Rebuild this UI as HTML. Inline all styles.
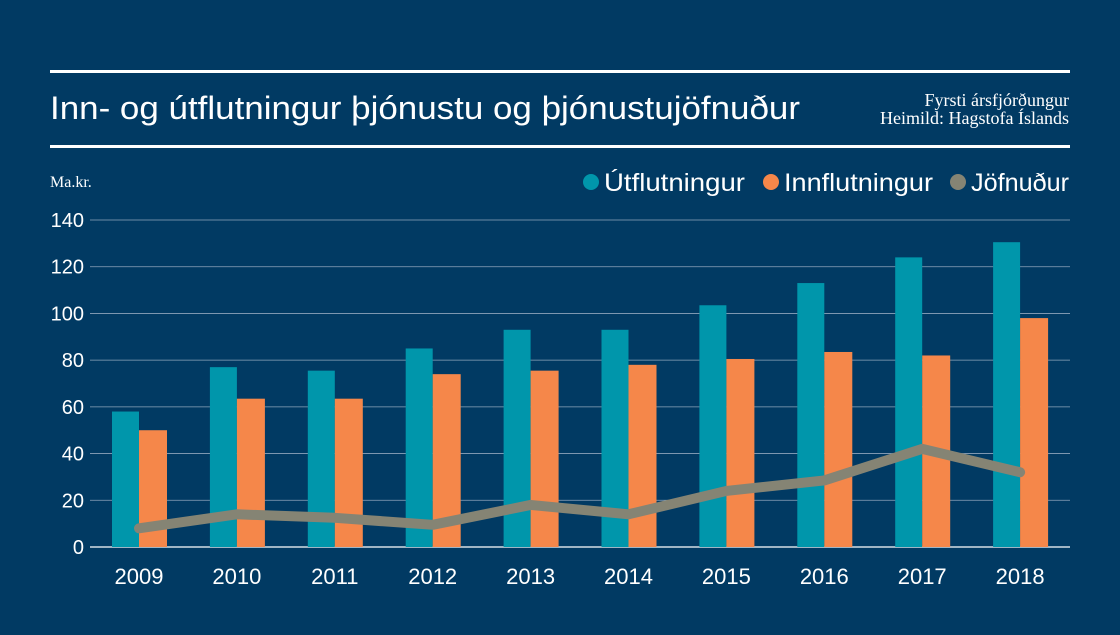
<!DOCTYPE html>
<html><head><meta charset="utf-8"><style>
body{margin:0;background:#013a63;}
svg text{font-family:"Liberation Sans",sans-serif;fill:#fff;}
</style></head><body>
<svg width="1120" height="630" viewBox="0 0 1120 630">
<rect width="1120" height="630" fill="#013a63"/>
<rect x="50" y="70" width="1020" height="3" fill="#fff"/>
<rect x="50" y="145" width="1020" height="3" fill="#fff"/>
<text x="50" y="119" font-size="32" textLength="750" lengthAdjust="spacingAndGlyphs">Inn- og útflutningur þjónustu og þjónustujöfnuður</text>
<text x="1069" y="106" font-size="18" text-anchor="end" style="font-family:'Liberation Serif',serif">Fyrsti ársfjórðungur</text>
<text x="1069" y="124" font-size="18" text-anchor="end" style="font-family:'Liberation Serif',serif">Heimild: Hagstofa Íslands</text>
<text x="50" y="187" font-size="16" style="font-family:'Liberation Serif',serif">Ma.kr.</text>
<g>
<circle cx="591" cy="182" r="8" fill="#0096ab"/>
<text x="604" y="191" font-size="25" textLength="141" lengthAdjust="spacingAndGlyphs">Útflutningur</text>
<circle cx="771" cy="182" r="8" fill="#f5874a"/>
<text x="784" y="191" font-size="25" textLength="149" lengthAdjust="spacingAndGlyphs">Innflutningur</text>
<circle cx="958" cy="182" r="8" fill="#858474"/>
<text x="971" y="191" font-size="25" textLength="98" lengthAdjust="spacingAndGlyphs">Jöfnuður</text>
</g>
<g id="plot"></g>
</svg>
<script>
const years=['2009','2010','2011','2012','2013','2014','2015','2016','2017','2018'];
const exportsV=[58,77,75.5,85,93,93,103.5,113,124,130.5];
const importsV=[50,63.5,63.5,74,75.5,78,80.5,83.5,82,98];
const balanceV=[8,14,12.5,9.5,18,14,24,28.5,42,32];
const yTicks=[0,20,40,60,80,100,120,140];
const NS='http://www.w3.org/2000/svg';
const g=document.getElementById('plot');
const y=v=>547-v*(327/140);
const x=i=>139+i*97.9;
function mk(t,a){const e=document.createElementNS(NS,t);for(const k in a)e.setAttribute(k,a[k]);g.appendChild(e);return e;}
yTicks.forEach(t=>{
 const l=mk('line',{x1:90,x2:1070,y1:y(t),y2:y(t),stroke:t===0?'#ffffff':'#8fa5bb','stroke-width':t===0?1.2:0.8});
 
 
 const tx=mk('text',{x:84,y:y(t)+7,'font-size':20,'text-anchor':'end'});tx.textContent=t;
 
 
});
years.forEach((yr,i)=>{
 const b1=mk('rect',{x:x(i)-27,y:y(exportsV[i]),width:27,height:547-y(exportsV[i]),fill:'#0096ab'});
 
 
 const b2=mk('rect',{x:x(i),y:y(importsV[i]),width:28,height:547-y(importsV[i]),fill:'#f5874a'});
 
 
 const tx=mk('text',{x:x(i),y:584,'font-size':22,'text-anchor':'middle'});tx.textContent=yr;
 
 
});
const p=mk('polyline',{points:balanceV.map((v,i)=>x(i)+','+y(v)).join(' '),fill:'none',stroke:'#858474','stroke-width':10,'stroke-linecap':'round','stroke-linejoin':'round'});


</script>
</body></html>
